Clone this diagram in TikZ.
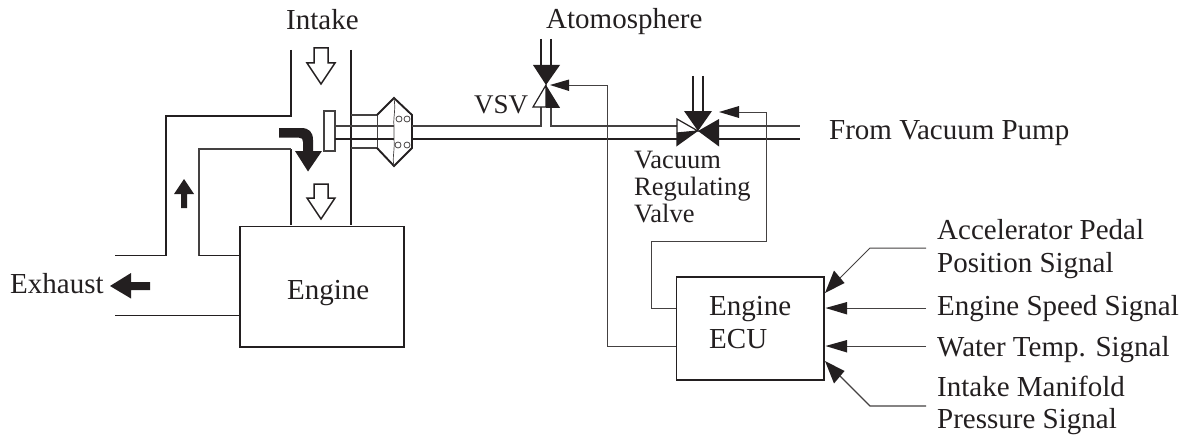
\documentclass[tikz,border=0pt]{standalone}
\usepackage{fontspec}
\setmainfont{Liberation Serif}
\usetikzlibrary{calc}
\definecolor{ink}{HTML}{231F20}
\tikzset{
  pipe/.style={draw=ink,line width=1.9pt,line join=miter},
  thinpipe/.style={draw=ink!85,line width=1.5pt},
  sig/.style={draw=ink!85,line width=1pt},
  solid tri/.style={fill=ink,draw=ink,line width=.6pt,line join=miter},
  hollow/.style={fill=white,draw=ink,line width=1.5pt,line join=miter},
  lab/.style={inner sep=0pt,anchor=base west,font=\fontsize{29}{33}\selectfont,text=ink},
  smalllab/.style={lab,font=\fontsize{26.5}{30}\selectfont},
  box/.style={draw=ink,line width=1.6pt,inner sep=0pt,anchor=north west},
}
\begin{document}
\begin{tikzpicture}[x=1pt,y=-1pt]
\useasboundingbox (0,0) rectangle (1183,436);
% Boxes
\node[box,minimum width=164pt,minimum height=120.5pt] (engine) at (239,225.5) {};
\node[box,minimum width=147.5pt,minimum height=103pt] (ecu) at (675.5,276) {};
% Intake / exhaust walls
\draw[pipe] (291,50) -- (291,116) -- (166,116) -- (166,255.5) -- (115,255.5);
\draw[pipe] (291,225) -- (291,149);
\draw[thinpipe] (291,149) -- (199,149) -- (199,255.5);
\draw[pipe] (199,255.5) -- (239,255.5);
\draw[pipe] (351,50) -- (351,225);
\draw[pipe] (115,315.5) -- (239,315.5);
% Actuator
\draw[thinpipe] (351,115) -- (377,115);
\draw[thinpipe] (351,148) -- (377,148);
\draw[sig] (377,115) -- (377,148);
\draw[pipe] (377,115) -- (394,98) -- (412,115) -- (412,148) -- (394,166) -- (377,148);
\draw[thinpipe,fill=white] (324,111) rectangle (335,151);
\draw[thinpipe] (335,126) -- (394,126);
\draw[pipe] (335,139) -- (394,139);
\draw[sig,line width=.7pt] (394,98) .. controls (396,110) and (393,118) .. (394,126) -- (394,139) .. controls (395,150) and (392,158) .. (394,166);
\foreach \c/\d in {399/119,407/119,398/145,407/145}
  \draw[sig,line width=.8pt] (\c,\d) circle (3);
% Vacuum lines
\draw[thinpipe] (412,126) -- (541,126) -- (541,107);
\draw[thinpipe] (551,107) -- (551,126) -- (677,126);
\draw[pipe] (412,139) -- (677,139);
\draw[thinpipe] (719,126) -- (800,126);
\draw[pipe] (719,139) -- (800,139);
% VSV
\coordinate (vsv) at (546,85);
\draw[pipe,line width=1.5pt] (541,39) -- (541,65) (551,39) -- (551,65);
\fill[ink] (533,65) -- (560,65) -- (vsv) -- cycle;
\draw[draw=ink,line width=1.2pt,fill=white] (vsv) -- (533,107) -- (546,107) -- cycle;
\fill[ink] (vsv) -- (560,107.8) -- (546,107.8) -- cycle;
% Regulating valve
\coordinate (reg) at (698,131);
\draw[pipe,line width=1.5pt] (693,76) -- (693,111) (703,76) -- (703,111);
\fill[ink] (684,111) -- (712,111) -- (reg) -- cycle;
\draw[draw=ink,line width=1.2pt,fill=white] (677,119) -- (reg) -- (677,133) -- cycle;
\fill[ink] (676.4,133) -- (reg) -- (676.4,146.5) -- cycle;
\fill[ink] (719,119) -- (reg) -- (719,146.5) -- cycle;
% Control lines
\coordinate (vsvtip) at (550,85);
\coordinate (regtip) at (719,112);
\draw[sig] (ecu.west |- 0,346) -- (607,346) -- (607,85) -- (569,85);
\fill[ink] (vsvtip) -- (569,79.5) -- (569,91) -- cycle;
\draw[sig] (ecu.west |- 0,308) -- (651,308) -- (651,241) -- (766,241) -- (766,112) -- (739,112);
\fill[ink] (regtip) -- (739,106) -- (739,118) -- cycle;
% Signals
\coordinate (s1) at (926,248);
\coordinate (s2) at (926,308);
\coordinate (s3) at (926,346);
\coordinate (s4) at (926,406);
\draw[sig] (s1) -- (870,248) -- (840,278);
\fill[ink] (825,293) -- (834,270.5) -- (844.5,283) -- cycle;
\draw[sig] (s2) -- (847,308);
\fill[ink] (825.5,308) -- (847,302) -- (847,314.5) -- cycle;
\draw[sig] (s3) -- (847,346);
\fill[ink] (825.5,346) -- (847,340) -- (847,352.5) -- cycle;
\draw[sig,line width=1.2pt] (s4) -- (870,406) -- (840,376);
\fill[ink] (825,361) -- (844.5,371) -- (834,383.5) -- cycle;
% Flow arrows
\draw[hollow] (314,48) -- (328,48) -- (328,63) -- (335,63) -- (321,84) -- (307,63) -- (314,63) -- cycle;
\draw[hollow] (314,184) -- (328,184) -- (328,198) -- (335,198) -- (321,219) -- (307,198) -- (314,198) -- cycle;
\fill[ink] (279,128) -- (301,128) .. controls (309,128) and (313,132) .. (313,140) -- (313,151) -- (322,151) -- (308,171.5) -- (295,151) -- (303,151) -- (303,142) .. controls (303,139) and (302,137.7) .. (299,137.7) -- (279,137.7) -- cycle;
\fill[ink] (181,208) -- (187,208) -- (187,194) -- (194,194) -- (184,179) -- (174,194) -- (181,194) -- cycle;
\fill[ink] (110,286) -- (131,273) -- (131,282) -- (150,282) -- (150,290) -- (131,290) -- (131,298.5) -- cycle;
% Labels
\node[lab] (t1) at (286,30) {Intake};
\node[lab] (t2) at (546,29) {Atomosphere};
\node[lab,font=\fontsize{27}{30}\selectfont] (t3) at (474,113) {VSV};
\node[lab] (t4) at (829,139) {From Vacuum Pump};
\node[smalllab] (t5) at (634,168) {Vacuum};
\node[smalllab] (t6) at (634,195) {Regulating};
\node[smalllab] (t7) at (634,222) {Valve};
\node[lab] (t8) at (10,293) {Exhaust};
\node[lab] (t9) at (287,299) {Engine};
\node[lab] (t10) at (709,315) {Engine};
\node[lab] (t11) at (709,348) {ECU};
\node[lab] (t12) at (937,239) {Accelerator Pedal};
\node[lab] (t13) at (937,272) {Position Signal};
\node[lab] (t14) at (937,315) {Engine Speed Signal};
\node[lab] (t15) at (937,356) {Water Temp. Signal};
\node[lab] (t16) at (937,396) {Intake Manifold};
\node[lab] (t17) at (937,428) {Pressure Signal};
\end{tikzpicture}
\end{document}
